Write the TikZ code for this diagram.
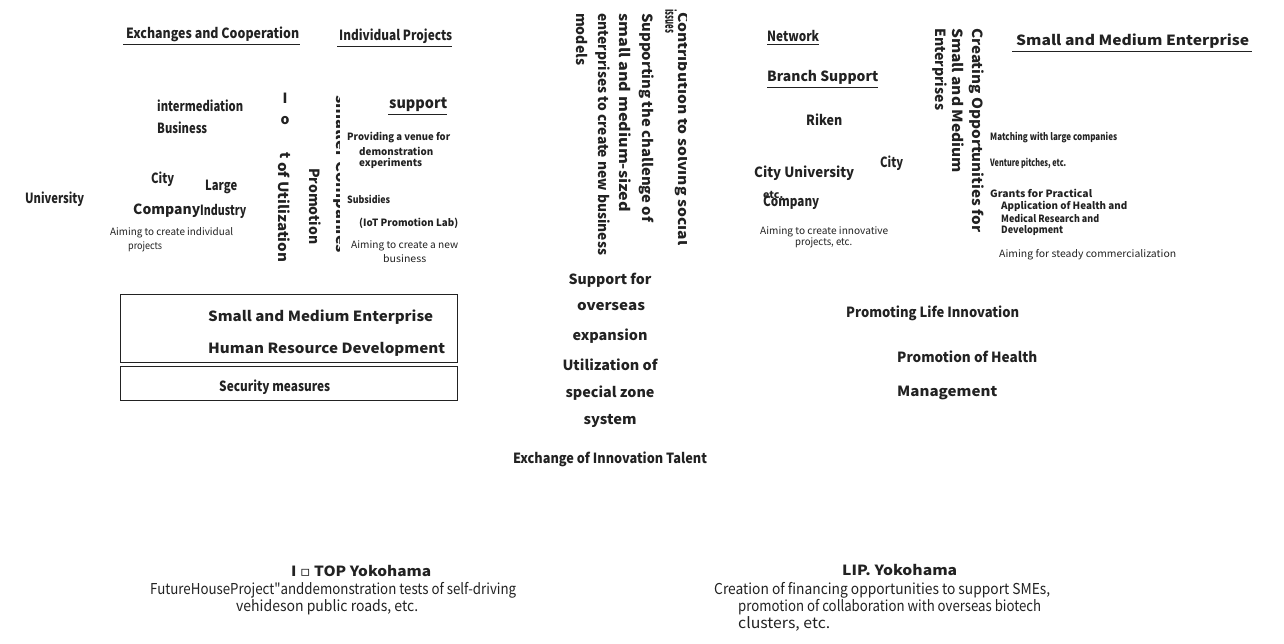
\documentclass[tikz,border=0pt]{standalone}
\usepackage{fontspec}
\setmainfont{Noto Sans CJK JP}
\newfontfamily\nq{Noto Sans CJK JP}[Ligatures=TeXOff]
\newfontfamily\dejavu{DejaVu Sans}
\usepackage{graphicx}
\definecolor{ink}{HTML}{222222}
\newcommand\W[2]{\resizebox{#1pt}{\height}{#2}}
\tikzset{
 t/.style={inner sep=0pt, anchor=west, text=ink},
 tc/.style={inner sep=0pt, anchor=center, text=ink},
 bl/.style={font=\fontsize{14}{14}\selectfont\bfseries},
 bs/.style={font=\fontsize{10}{10}\selectfont\bfseries},
 rs/.style={font=\fontsize{10}{10}\selectfont},
 rb/.style={font=\fontsize{15}{15}\selectfont},
 vert/.style={rotate=-90, anchor=west, inner sep=0pt, text=ink},
 uline/.style={line width=0.9pt, draw=ink},
 frame/.style={draw=ink, line width=1pt, inner sep=0pt, anchor=north west}
}
\begin{document}
\begin{tikzpicture}[x=1pt,y=-1pt]
\useasboundingbox[fill=white] (0,0) rectangle (1284,643);
% ---------- left section ----------
\node[t,bl] (exch) at (126,34) {\W{173}{Exchanges and Cooperation}};
\node[t,bl] (indiv) at (339,36) {\W{113}{Individual Projects}};
\node[t,font=\fontsize{15}{15}\selectfont\bfseries] (supp) at (389,105) {\W{58}{support}};
\draw[uline] ([xshift=-3pt,yshift=-3pt]exch.south west) -- ([xshift=1pt,yshift=-3pt]exch.south east);
\draw[uline] ([xshift=-2pt,yshift=-3pt]indiv.south west) -- ([yshift=-3pt]indiv.south east);
\draw[uline] ([xshift=-1pt,yshift=-2pt]supp.south west) -- ([yshift=-2pt]supp.south east);
\node[t,bl] (interm) at (157,106) {\W{86}{intermediation}};
\node[t,bl] (busi) at (157,128) {\W{50}{Business}};
\node[t,bl] (city1) at (151,179) {\W{23}{City}};
\node[t,bl] (large) at (205,187) {\W{32}{Large}};
\node[t,bl] (comp1) at (133,211) {\W{67}{Company}};
\node[t,bl] (indus) at (200,211) {\W{46}{Industry}};
\node[t,rs] (aim1) at (110,233) {\W{123}{Aiming to create individual}};
\node[t,rs] (aim1b) at (128,247) {\W{34}{projects}};
\node[t,bl] (univ) at (25,199) {\W{59}{University}};
\node[t,bs] (prov1) at (347,138) {\W{103}{Providing a venue for}};
\node[t,bs] (prov2) at (359,151) {\W{74}{demonstration}};
\node[t,bs] (prov3) at (359,163) {\W{63}{experiments}};
\node[t,bs] (subs) at (347,199) {\W{43}{Subsidies}};
\node[t,bs] (iotlab) at (359,223) {\W{99}{(IoT Promotion Lab)}};
\node[t,rs] (aim2) at (351,246) {\W{107}{Aiming to create a new}};
\node[t,rs] (aim2b) at (383,259) {\W{43}{business}};
% vertical
\node[tc,bl] (iotI) at (285,98) {I};
\node[tc,bl] (iotO) at (285,121) {o};
\node[vert,bl] (iotT) at (285,152) {t};
\node[vert,bl] (util) at (284,162) {\W{100}{of Utilization}};
\node[vert,bl] (promo) at (315,168) {\W{76}{Promotion}};
\begin{scope}
\clip (0,0) rectangle (339,643);
\node[vert,bl] (smaller) at (341,95) {\W{158}{smaller Companies}};
\end{scope}
% boxes
\node[frame, minimum width=337pt, minimum height=68pt] (box1) at (120,294) {};
\node[frame, minimum width=337pt, minimum height=34pt] (box2) at (120,366) {};
\node[t,bl] (sme1) at (208,317) {\W{225}{Small and Medium Enterprise}};
\node[t,bl] (hrd) at (208,349) {\W{237}{Human Resource Development}};
\node[t,bl] (secu) at (219,387) {\W{111}{Security measures}};
% ---------- middle ----------
\begin{scope}
\clip (0,0) rectangle (686,643);
\node[vert,bl] (contrib) at (683,12) {\W{233}{Contribution to solving social}};
\end{scope}
\node[vert,bl] (issues) at (671,9) {\W{24}{issues}};
\node[vert,bl] (supch1) at (647,13) {\W{209}{Supporting the challenge of}};
\node[vert,bl] (supch2) at (625,13) {\W{199}{small and medium-sized}};
\node[vert,bl] (supch3) at (603,13) {\W{242}{enterprises to create new business}};
\node[vert,bl] (supch4) at (582,13) {\W{52}{models}};
\node[tc,bl] (ov1) at (610,280) {\W{83}{Support for}};
\node[tc,bl] (ov2) at (611,307) {\W{68}{overseas}};
\node[tc,bl] (ov3) at (610,336) {\W{75}{expansion}};
\node[tc,bl] (ov4) at (610,365) {\W{95}{Utilization of}};
\node[tc,bl] (ov5) at (610,393) {\W{89}{special zone}};
\node[tc,bl] (ov6) at (610,421) {\W{53}{system}};
\node[tc,bl] (exinn) at (610,459) {\W{194}{Exchange of Innovation Talent}};
% ---------- right ----------
\node[t,bl] (netw) at (767,36) {\W{52}{Network}};
\node[t,bl] (branch) at (767,77) {\W{111}{Branch Support}};
\draw[uline] ([yshift=-3pt]netw.south west) -- ([yshift=-3pt]netw.south east);
\draw[uline] ([yshift=-3pt]branch.south west) -- ([yshift=-3pt]branch.south east);
\node[t,bl] (riken) at (806,120) {\W{36}{Riken}};
\node[t,bl] (city2) at (880,163) {\W{23}{City}};
\node[t,bl] (cityu) at (754,173) {\W{100}{City University}};
\node[t,bs] (etc) at (763,195) {\W{20}{etc.}};
\node[t,bl] (comp2) at (763,203) {\W{56}{Company}};
\node[t,rs] (aim3) at (760,232) {\W{128}{Aiming to create innovative}};
\node[t,rs] (aim3b) at (795,243) {\W{57}{projects, etc.}};
\node[vert,bl] (creat1) at (977,28) {\W{204}{Creating Opportunities for}};
\node[vert,bl] (creat2) at (958,28) {\W{145}{Small and Medium}};
\node[vert,bl] (creat3) at (940,28) {\W{82}{Enterprises}};
\node[t,bl] (sme2) at (1016,41) {\W{233}{Small and Medium Enterprise}};
\draw[uline] ([xshift=-4pt,yshift=-3pt]sme2.south west) -- ([xshift=3pt,yshift=-3pt]sme2.south east);
\node[t,bs] (match) at (990,138) {\W{127}{Matching with large companies}};
\node[t,bs] (vent) at (990,163) {\W{76}{Venture pitches, etc.}};
\node[t,bs] (gr1) at (990,193) {\W{102}{Grants for Practical}};
\node[t,bs] (gr2) at (1001,206) {\W{126}{Application of Health and}};
\node[t,bs] (gr3) at (1001,218) {\W{98}{Medical Research and}};
\node[t,bs] (gr4) at (1001,231) {\W{62}{Development}};
\node[t,rs] (aim4) at (999,255) {\W{177}{Aiming for steady commercialization}};
\node[t,bl] (plife) at (846,313) {\W{173}{Promoting Life Innovation}};
\node[t,bl] (phealth) at (897,357) {\W{140}{Promotion of Health}};
\node[t,bl] (manag) at (897,393) {\W{100}{Management}};
% ---------- bottom ----------
\node[t,bl] (itop) at (291,571) {\W{140}{I {\dejavu ▫} TOP Yokohama}};
\node[t,rb] (fut1) at (150,590) {\W{366}{FutureHouseProject{\nq"}anddemonstration tests of self-driving}};
\node[t,rb] (fut2) at (236,607) {\W{182}{vehideson public roads, etc.}};
\node[t,bl] (lip) at (842,570) {\W{115}{LIP. Yokohama}};
\node[t,rb] (lip1) at (714,590) {\W{336}{Creation of financing opportunities to support SMEs,}};
\node[t,rb] (lip2) at (738,607) {\W{303}{promotion of collaboration with overseas biotech}};
\node[t,rb] (lip3) at (738,624) {\W{92}{clusters, etc.}};
\end{tikzpicture}
\end{document}
